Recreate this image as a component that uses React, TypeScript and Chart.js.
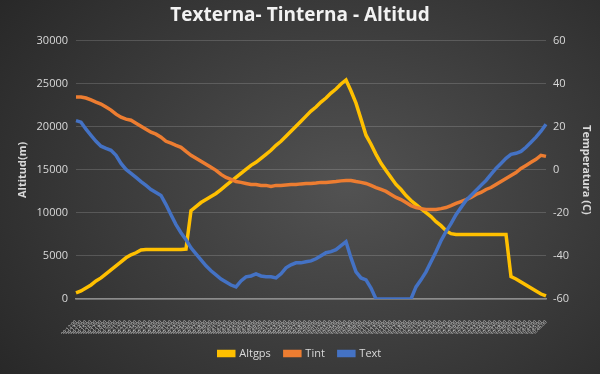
import React, { useEffect, useRef } from "react";
import { Chart, registerables } from "chart.js";
Chart.register(...registerables);

const timeLabels = [
  "09:12:00","09:13:00","09:14:00","09:15:00","09:16:00","09:17:00","09:18:00","09:19:00","09:20:00","09:21:00",
  "09:22:00","09:23:00","09:24:00","09:25:00","09:26:00","09:27:00","09:28:00","09:29:00","09:30:00","09:31:00",
  "09:32:00","09:33:00","09:34:00","09:35:00","09:36:00","09:37:00","09:38:00","09:39:00","09:40:00","09:41:00",
  "09:42:00","09:43:00","09:44:00","09:45:00","09:46:00","09:47:00","09:48:00","09:49:00","09:50:00","09:51:00",
  "09:52:00","09:53:00","09:54:00","09:55:00","09:56:00","09:57:00","09:58:00","09:59:00","10:00:00","10:01:00",
  "10:02:00","10:03:00","10:04:00","10:05:00","10:06:00","10:07:00","10:08:00","10:09:00","10:10:00","10:11:00",
  "10:12:00","10:13:00","10:14:00","10:15:00","10:16:00","10:17:00","10:18:00","10:19:00","10:20:00","10:21:00",
  "10:22:00","10:23:00","10:24:00","10:25:00","10:26:00","10:27:00","10:28:00","10:29:00","10:30:00","10:31:00",
  "10:32:00","10:33:00","10:34:00","10:35:00","10:36:00","10:37:00","10:38:00","10:39:00","10:40:00","10:41:00",
  "10:42:00","10:43:00","10:44:00","10:45:00","10:46:00"
];

const altgps = [
  700, 930, 1280, 1630, 2100, 2450, 2920, 3390, 3850, 4320,
  4790, 5140, 5370, 5700, 5750, 5750, 5750, 5750, 5750, 5750,
  5750, 5750, 5800, 10270, 10740, 11210, 11560, 11910, 12260, 12720,
  13190, 13660, 14120, 14590, 15060, 15530, 15880, 16340, 16810, 17280,
  17860, 18330, 18910, 19490, 20080, 20660, 21250, 21830, 22300, 22880,
  23350, 23930, 24400, 24980, 25450, 24160, 22760, 20900, 19030, 17980,
  16810, 15760, 14940, 14120, 13310, 12720, 12020, 11440, 10970, 10510,
  10040, 9570, 8990, 8520, 7940, 7590, 7500, 7500, 7500, 7500,
  7500, 7500, 7500, 7500, 7500, 7500, 7500, 2600, 2330, 1980,
  1630, 1280, 930, 580, 350
];

const tint = [
  33.9, 33.9, 33.4, 32.5, 31.5, 30.6, 29.2, 27.8, 25.9, 24.5,
  23.6, 23.1, 21.7, 20.3, 18.9, 17.5, 16.6, 15.2, 13.3, 12.4,
  11.4, 10.5, 8.6, 6.8, 5.4, 4.0, 2.6, 1.2, -0.2, -2.1,
  -3.5, -4.4, -5.4, -5.8, -6.3, -6.8, -6.8, -7.2, -7.2, -7.7,
  -7.2, -7.2, -7.0, -6.8, -6.8, -6.5, -6.3, -6.3, -6.1, -5.8,
  -5.8, -5.6, -5.4, -5.1, -4.9, -4.9, -5.4, -5.8, -6.3, -7.2,
  -8.2, -9.1, -10.0, -11.4, -12.8, -13.8, -15.2, -16.6, -17.5, -18.0,
  -18.4, -18.4, -18.4, -18.0, -17.5, -16.6, -15.6, -14.7, -13.8, -12.8,
  -11.4, -10.5, -9.1, -8.2, -6.8, -5.4, -4.0, -2.6, -1.2, 0.7,
  2.1, 3.5, 4.9, 6.8, 6.3
];

const text = [
  22.9, 22.2, 18.9, 16.1, 13.3, 11.0, 10.0, 9.1, 6.8, 3.0,
  0.2, -1.6, -3.5, -5.4, -7.2, -9.1, -10.5, -11.9, -16.1, -20.8,
  -25.4, -29.2, -32.4, -36.2, -39.0, -41.8, -44.6, -46.9, -48.8, -50.7,
  -52.1, -53.5, -54.4, -51.6, -49.7, -49.3, -48.3, -49.3, -49.7, -49.7,
  -50.2, -48.3, -45.5, -44.1, -43.2, -43.2, -42.7, -42.3, -41.3, -39.9,
  -38.5, -38.0, -37.1, -35.2, -33.4, -40.9, -47.4, -50.2, -51.1, -54.9,
  -60, -60, -60, -60, -60, -60, -60, -60, -54.4, -51.1,
  -47.4, -42.7, -38.0, -32.9, -28.7, -25.0, -20.8, -17.5, -14.2, -11.9,
  -9.6, -7.2, -4.9, -2.1, 0.7, 3.0, 5.4, 7.2, 7.7, 8.6,
  10.5, 12.8, 15.2, 18.0, 21.2
];

const seriesNames = ["Altgps", "Tint", "Text"];
const seriesColors = ["#FFC000", "#ED7D31", "#4472C4"];

const CHART_H = 374;
const PLOT_BOTTOM = 299;
const BOTTOM_PAD = 5;

export default function App() {
  const ref = useRef<HTMLCanvasElement | null>(null);
  useEffect(() => {
    document.body.style.margin = "0";
    const tickFont = { family: "Open Sans", size: 11 };
    const axisTitleFont = { family: "Open Sans", size: 11, weight: "bold" as const };
    const plain = (v: any) => String(v);
    const chart = new Chart(ref.current!, {
      type: "line",
      data: {
        labels: timeLabels,
        datasets: [
          { label: seriesNames[0], data: altgps, yAxisID: "y", borderColor: seriesColors[0], backgroundColor: seriesColors[0], borderWidth: 3.5, pointRadius: 0, order: 2 },
          { label: seriesNames[1], data: tint, yAxisID: "y1", borderColor: seriesColors[1], backgroundColor: seriesColors[1], borderWidth: 3.5, pointRadius: 0, order: 1 },
          { label: seriesNames[2], data: text, yAxisID: "y1", borderColor: seriesColors[2], backgroundColor: seriesColors[2], borderWidth: 3.5, pointRadius: 0, order: 0 },
        ],
      },
      options: {
        animation: false,
        responsive: true,
        maintainAspectRatio: false,
        layout: { padding: { left: 0, right: 0, top: 0, bottom: BOTTOM_PAD } },
        plugins: {
          title: {
            display: true,
            text: "Texterna- Tinterna - Altitud",
            color: "#f2f2f2",
            font: { family: "Open Sans", size: 19, weight: "bold" },
            padding: { top: 4, bottom: 14 },
          },
          legend: {
            position: "bottom",
            labels: {
              color: "#d9d9d9",
              font: { family: "Open Sans", size: 11 },
              boxWidth: 15,
              boxHeight: 4,
              padding: 14,
              sort: (a: any, b: any) => a.datasetIndex - b.datasetIndex,
            },
          },
          tooltip: { enabled: false },
        },
        scales: {
          x: {
            grid: { display: false },
            border: { display: true, color: "#8c8c8c", width: 1.5 },
            ticks: {
              autoSkip: false,
              maxRotation: 45,
              minRotation: 45,
              font: { family: "Open Sans", size: 5 },
              color: "#d9d9d9",
              padding: 12,
            },
            afterFit: (s: any) => {
              s.height = CHART_H - BOTTOM_PAD - PLOT_BOTTOM - (s.chart.legend ? s.chart.legend.height : 0);
            },
          },
          y: {
            position: "left",
            min: 0,
            max: 30000,
            ticks: { stepSize: 5000, color: "#d9d9d9", font: tickFont, padding: 8, callback: plain },
            grid: { color: "rgba(255,255,255,0.16)", drawTicks: false },
            border: { display: false },
            title: { display: true, text: "Altitud(m)", color: "#d9d9d9", font: axisTitleFont, padding: { top: 16, bottom: 0 } },
            afterFit: (s: any) => { s.width = 76; },
          },
          y1: {
            position: "right",
            min: -60,
            max: 60,
            ticks: { stepSize: 20, color: "#d9d9d9", font: tickFont, padding: 7, callback: plain },
            grid: { display: false, drawTicks: false },
            border: { display: false },
            title: { display: true, text: "Temperatura (C)", color: "#d9d9d9", font: axisTitleFont, padding: { top: 7, bottom: 0 } },
            afterFit: (s: any) => { s.width = 54; },
          },
        },
      },
    });
    return () => chart.destroy();
  }, []);
  return (
    <div
      style={{
        position: "fixed",
        left: 0,
        top: 0,
        width: 600,
        height: 374,
        background: "radial-gradient(ellipse 75% 90% at 58% 50%, #525252 0%, #3e3e3e 45%, #262626 100%)",
      }}
    >
      <canvas ref={ref} />
    </div>
  );
}
